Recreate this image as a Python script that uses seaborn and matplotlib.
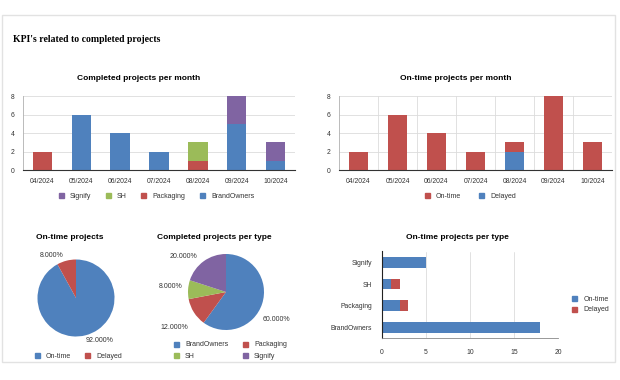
import matplotlib
matplotlib.use("Agg")
import numpy as np
import pandas as pd
import seaborn as sns
import matplotlib.pyplot as plt
from matplotlib.lines import Line2D
from matplotlib.patches import Rectangle

# ---------------- data ----------------
months = ["04/2024", "05/2024", "06/2024", "07/2024", "08/2024", "09/2024", "10/2024"]
brandowners_month = [0, 6, 4, 2, 0, 5, 1]
packaging_month = [2, 0, 0, 0, 1, 0, 0]
sh_month = [0, 0, 0, 0, 2, 0, 0]
signify_month = [0, 0, 0, 0, 0, 3, 2]

ontime_month = [2, 6, 4, 2, 1, 8, 3]
delayed_month = [0, 0, 0, 0, 2, 0, 0]

status_labels = ["On-time", "Delayed"]
status_share = [92, 8]

type_labels = ["BrandOwners", "Packaging", "SH", "Signify"]
type_share = [60, 12, 8, 20]

ontime_by_type = [18, 2, 1, 5]
delayed_by_type = [0, 1, 1, 0]

month_ticks = [0, 2, 4, 6, 8]
type_ticks = [0, 5, 10, 15, 20]

# ---------------- style ----------------
BLUE = "#4f81bd"
RED = "#c0504d"
GREEN = "#9bbb59"
PURPLE = "#8064a2"
TXT = "#333333"
GRID = "#dcdcdc"

sns.set_theme(style="white")
plt.rcParams["font.family"] = ["Liberation Sans", "DejaVu Sans"]
plt.rcParams["text.color"] = TXT

W, H = 620, 380
fig = plt.figure(figsize=(W / 100, H / 100), dpi=100)
fig.patch.set_facecolor("white")


def px_axes(l, t, r, b):
    return fig.add_axes([l / W, 1 - b / H, (r - l) / W, (b - t) / H])


def fx(x):
    return x / W


def fy(y):
    return 1 - y / H


def sq(c):
    return Line2D([], [], marker="s", ls="none", markersize=3.6,
                  markerfacecolor=c, markeredgecolor=c)


def stacked(ax, cats, layers, colors, orient="v", order=None):
    cum = np.cumsum(np.array(layers, dtype=float), axis=0)
    order = order if order is not None else cats
    for i in reversed(range(len(layers))):
        df = pd.DataFrame({"cat": cats, "val": cum[i]})
        if orient == "v":
            sns.barplot(data=df, x="cat", y="val", order=order, color=colors[i],
                        width=0.5, saturation=1, errorbar=None, linewidth=0, ax=ax)
        else:
            sns.barplot(data=df, x="val", y="cat", order=order, color=colors[i],
                        width=0.5, saturation=1, errorbar=None, linewidth=0,
                        orient="h", ax=ax)
    ax.set_xlabel("")
    ax.set_ylabel("")


# border of the dashboard
fig.patches.append(Rectangle((fx(2), fy(362)), (615 - 2) / W, (362 - 15) / H,
                             transform=fig.transFigure, fill=False,
                             edgecolor="#e2e2e2", lw=1.0))

fig.text(fx(13), fy(40), "KPI's related to completed projects",
         family=["Liberation Serif", "DejaVu Serif"], fontweight="bold",
         fontsize=7, color="black", ha="left", va="center")


def style_month_axes(ax, vgrid):
    n = len(months)
    ax.set_xlim(-0.5, n - 0.5)
    ax.set_ylim(0, 8)
    ax.set_yticks(month_ticks)
    ax.set_axisbelow(True)
    ax.grid(axis="y", color=GRID, lw=0.6)
    ax.set_xticks(np.arange(0.5, n - 1, 1.0), minor=True)
    if vgrid:
        ax.grid(axis="x", which="minor", color=GRID, lw=0.6)
    ax.tick_params(axis="x", which="major", length=0, pad=5.5, labelsize=4.9,
                   labelcolor=TXT)
    ax.tick_params(axis="x", which="minor", length=4, direction="inout",
                   width=0.6, color="#222222")
    ax.tick_params(axis="y", length=0, pad=6, labelsize=4.9, labelcolor=TXT)
    for s in ["top", "right"]:
        ax.spines[s].set_visible(False)
    ax.spines["left"].set_color("#b0b0b0")
    ax.spines["left"].set_linewidth(0.6)
    ax.spines["bottom"].set_color("#333333")
    ax.spines["bottom"].set_linewidth(0.8)


# ---- Completed projects per month ----
ax1 = px_axes(23, 96, 295, 170)
stacked(ax1, months, [brandowners_month, packaging_month, sh_month, signify_month],
        [BLUE, RED, GREEN, PURPLE])
style_month_axes(ax1, vgrid=False)
fig.text(fx(139), fy(78), "Completed projects per month", fontweight="bold",
         fontsize=6, color="black", ha="center", va="center")
fig.legend([sq(PURPLE), sq(GREEN), sq(RED), sq(BLUE)],
           ["Signify", "SH", "Packaging", "BrandOwners"],
           loc="center", bbox_to_anchor=(fx(156), fy(196)), ncol=4, frameon=False,
           fontsize=5, handlelength=0.8, handletextpad=0.9, columnspacing=2.0,
           borderpad=0)

# ---- On-time projects per month ----
ax2 = px_axes(339, 96, 612, 170)
stacked(ax2, months, [delayed_month, ontime_month], [BLUE, RED])
style_month_axes(ax2, vgrid=True)
fig.text(fx(456), fy(78), "On-time projects per month", fontweight="bold",
         fontsize=6, color="black", ha="center", va="center")
fig.legend([sq(RED), sq(BLUE)], status_labels,
           loc="center", bbox_to_anchor=(fx(470), fy(196)), ncol=2, frameon=False,
           fontsize=5, handlelength=0.8, handletextpad=0.9, columnspacing=2.5,
           borderpad=0)


# ---- pies ----
def pie(ax, values, colors, offsets):
    wedges, _ = ax.pie(values, colors=colors, startangle=90, counterclock=False,
                       radius=1, wedgeprops=dict(linewidth=0))
    ax.set_xlim(-1, 1)
    ax.set_ylim(-1, 1)
    ax.set_aspect("equal")
    for w, v, off in zip(wedges, values, offsets):
        mid = np.deg2rad((w.theta1 + w.theta2) / 2)
        ax.annotate(f"{v:.3f}%", xy=(np.cos(mid), np.sin(mid)), xytext=off,
                    textcoords="offset points", ha="center", va="center",
                    fontsize=5, color=TXT)


axp1 = px_axes(76 - 38.5, 298 - 38.5, 76 + 38.5, 298 + 38.5)
pie(axp1, status_share, [BLUE, RED], [(10.3, -3.4), (-10.9, 3.4)])
fig.text(fx(70), fy(238), "On-time projects", fontweight="bold",
         fontsize=6, color="black", ha="center", va="center")
fig.legend([sq(BLUE), sq(RED)], status_labels,
           loc="center", bbox_to_anchor=(fx(78), fy(356)), ncol=2, frameon=False,
           fontsize=5, handlelength=0.8, handletextpad=0.9, columnspacing=2.0,
           borderpad=0)

axp2 = px_axes(226 - 38, 292 - 38, 226 + 38, 292 + 38)
pie(axp2, type_share, [BLUE, RED, GREEN, PURPLE],
    [(10.4, -11.0), (-14.0, -11.2), (-12.7, 1.9), (-14.5, 3.3)])
fig.text(fx(214.5), fy(238), "Completed projects per type", fontweight="bold",
         fontsize=6, color="black", ha="center", va="center")
fig.legend([sq(BLUE), sq(GREEN), sq(RED), sq(PURPLE)],
           ["BrandOwners", "SH", "Packaging", "Signify"],
           loc="center", bbox_to_anchor=(fx(230), fy(350.5)), ncol=2, frameon=False,
           fontsize=5, handlelength=0.8, handletextpad=0.9, columnspacing=2.0,
           labelspacing=0.6, borderpad=0)

# ---- On-time projects per type ----
axh = px_axes(382, 251.5, 558, 338.2)
hb_order = type_labels[::-1]
stacked(axh, type_labels, [ontime_by_type, delayed_by_type], [BLUE, RED],
        orient="h", order=hb_order)
axh.set_xlim(0, 20)
axh.set_ylim(len(hb_order) - 0.5, -0.5)
axh.set_xticks(type_ticks)
axh.set_axisbelow(True)
axh.grid(axis="x", color=GRID, lw=0.6)
axh.tick_params(axis="x", length=4, direction="inout", width=0.6,
                color="#555555", pad=6, labelsize=4.9, labelcolor=TXT)
axh.tick_params(axis="y", length=0, pad=7, labelsize=4.9, labelcolor=TXT)
for s in ["top", "right"]:
    axh.spines[s].set_visible(False)
axh.spines["left"].set_color("#222222")
axh.spines["left"].set_linewidth(0.8)
axh.spines["bottom"].set_color("#888888")
axh.spines["bottom"].set_linewidth(0.6)
fig.text(fx(457.5), fy(238), "On-time projects per type", fontweight="bold",
         fontsize=6, color="black", ha="center", va="center")
fig.legend([sq(BLUE), sq(RED)], status_labels,
           loc="center left", bbox_to_anchor=(fx(568), fy(304.5)), ncol=1,
           frameon=False, fontsize=5, handlelength=0.8, handletextpad=0.9,
           labelspacing=0.5, borderpad=0)

fig.savefig("out.png", dpi=100, facecolor="white")
